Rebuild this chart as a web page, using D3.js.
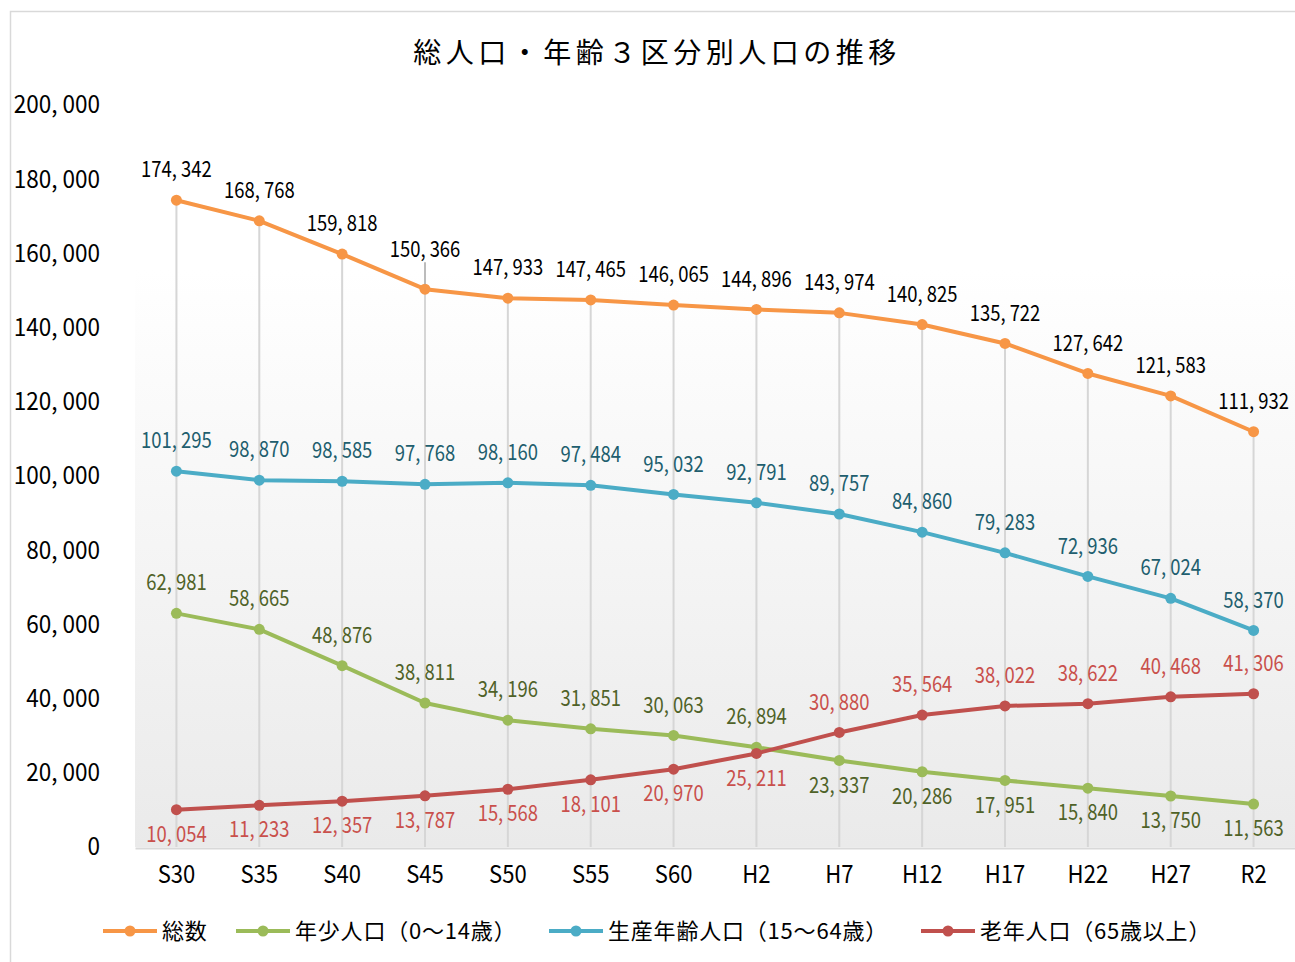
<!DOCTYPE html>
<html>
<head>
<meta charset="utf-8">
<script src="https://cdn.jsdelivr.net/npm/d3@7"></script>
<style>
  body { margin: 0; background: #fff; }
  svg text { font-family: "Noto Sans CJK JP", "Noto Sans", sans-serif; }
</style>
</head>
<body>
<div class="chart"></div>
<script>
var categories = ["S30", "S35", "S40", "S45", "S50", "S55", "S60", "H2", "H7", "H12", "H17", "H22", "H27", "R2"];
var totalPop = [174342, 168768, 159818, 150366, 147933, 147465, 146065, 144896, 143974, 140825, 135722, 127642, 121583, 111932];
var youngPop = [62981, 58665, 48876, 38811, 34196, 31851, 30063, 26894, 23337, 20286, 17951, 15840, 13750, 11563];
var workingPop = [101295, 98870, 98585, 97768, 98160, 97484, 95032, 92791, 89757, 84860, 79283, 72936, 67024, 58370];
var elderlyPop = [10054, 11233, 12357, 13787, 15568, 18101, 20970, 25211, 30880, 35564, 38022, 38622, 40468, 41306];
var yTicks = [0, 20000, 40000, 60000, 80000, 100000, 120000, 140000, 160000, 180000, 200000];

var svgW = 1295, svgH = 962;
var plot = { left: 135, right: 1295, top: 105, bottom: 847 };

var svg = d3.select(".chart").append("svg")
    .attr("width", svgW)
    .attr("height", svgH);

// outer frame
svg.append("rect")
    .attr("x", 10.5).attr("y", 11.5)
    .attr("width", svgW).attr("height", svgH)
    .attr("fill", "#fff")
    .attr("stroke", "#d9d9d9")
    .attr("stroke-width", 1.5);

var grad = svg.append("defs").append("linearGradient")
    .attr("id", "plotBg")
    .attr("x1", 0).attr("y1", 0).attr("x2", 0).attr("y2", 1);
grad.append("stop").attr("offset", "0%").attr("stop-color", "#ffffff");
grad.append("stop").attr("offset", "100%").attr("stop-color", "#eaeaea");

var x = d3.scaleBand().domain(categories).range([plot.left, plot.right]);
var y = d3.scaleLinear().domain([0, 200000]).range([plot.bottom, plot.top]);
var cx = function(c) { return x(c) + x.bandwidth() / 2; };

var fmt = function(v) { return d3.format(",")(v).replace(",", ", "); };

svg.append("rect")
    .attr("x", plot.left).attr("y", 270)
    .attr("width", plot.right - plot.left)
    .attr("height", plot.bottom - 270)
    .attr("fill", "url(#plotBg)");

// title
svg.append("text")
    .attr("x", 657).attr("y", 63)
    .attr("text-anchor", "middle")
    .style("font-size", "28px")
    .style("letter-spacing", "4.5px")
    .style("font-weight", 400)
    .attr("fill", "#000")
    .text("総人口・年齢３区分別人口の推移");

// drop lines from total to axis
svg.append("g").selectAll("line")
    .data(categories)
    .enter().append("line")
    .attr("x1", cx).attr("x2", cx)
    .attr("y1", function(c, i) { return y(totalPop[i]); })
    .attr("y2", y(0))
    .attr("stroke", "#d6d6d6")
    .attr("stroke-width", 2);

// axes
var sxY = 0.92;
var yAxis = svg.append("g")
    .attr("transform", "translate(" + plot.left + ",0)")
    .call(d3.axisLeft(y).tickValues(yTicks).tickSize(0).tickPadding(35).tickFormat(fmt));
yAxis.select(".domain").remove();
yAxis.selectAll("text")
    .style("font-size", "24.5px")
    .attr("fill", "#000")
    .attr("x", -35 / sxY)
    .attr("transform", "scale(" + sxY + ",1)");

var xAxis = svg.append("g")
    .attr("transform", "translate(0," + (plot.bottom + 1) + ")")
    .call(d3.axisBottom(x).tickSize(0).tickPadding(18));
xAxis.select(".domain").attr("stroke", "#d9d9d9").attr("stroke-width", 2);
xAxis.selectAll("text")
    .style("font-size", "24.5px")
    .attr("fill", "#000")
    .attr("transform", "scale(0.9,1)");

var series = [
    { name: "総数", values: totalPop, line: "#F79646", label: "#000000", place: "aaaaaaaaaaaaaa" },
    { name: "年少人口（0〜14歳）", values: youngPop, line: "#9BBB59", label: "#4F6228", place: "aaaaaaaabbbbbb" },
    { name: "生産年齢人口（15〜64歳）", values: workingPop, line: "#4BACC6", label: "#215E6E", place: "aaaaaaaaaaaaaa" },
    { name: "老年人口（65歳以上）", values: elderlyPop, line: "#C0504D", label: "#C9504C", place: "bbbbbbbbaaaaaa" }
];

var line = d3.line()
    .x(function(d, i) { return cx(categories[i]); })
    .y(function(d) { return y(d); });

var sxL = 0.82;
// leader nudge for the S45 total label
var totalNudge = { S45: -9 };

series.forEach(function(s, si) {
    var g = svg.append("g");
    g.append("path")
        .datum(s.values)
        .attr("d", line)
        .attr("fill", "none")
        .attr("stroke", s.line)
        .attr("stroke-width", 4)
        .attr("stroke-linejoin", "round");
    g.selectAll("circle")
        .data(s.values)
        .enter().append("circle")
        .attr("cx", function(d, i) { return cx(categories[i]); })
        .attr("cy", function(d) { return y(d); })
        .attr("r", 5.5)
        .attr("fill", s.line);

    g.selectAll("text")
        .data(s.values)
        .enter().append("text")
        .attr("transform", function(d, i) {
            var off = s.place[i] === "a" ? -31 : 24;
            if (si === 0 && totalNudge[categories[i]]) off += totalNudge[categories[i]];
            return "translate(" + cx(categories[i]) + "," + (y(d) + off) + ") scale(" + sxL + ",1)";
        })
        .attr("text-anchor", "middle")
        .attr("dy", "0.36em")
        .style("font-size", "22.5px")
        .attr("fill", s.label)
        .text(fmt);
});

// leader line for S45 total label
svg.append("line")
    .attr("x1", cx("S45")).attr("x2", cx("S45"))
    .attr("y1", y(totalPop[3]) - 27).attr("y2", y(totalPop[3]) - 5)
    .attr("stroke", "#a6a6a6")
    .attr("stroke-width", 1.5);

// legend
var legendX = [103, 236, 549, 921];
var legend = svg.append("g").attr("transform", "translate(0,931)");
series.forEach(function(s, i) {
    var lg = legend.append("g").attr("transform", "translate(" + legendX[i] + ",0)");
    lg.append("line")
        .attr("x1", 0).attr("x2", 54)
        .attr("stroke", s.line)
        .attr("stroke-width", 4);
    lg.append("circle")
        .attr("cx", 27).attr("r", 5.5)
        .attr("fill", s.line);
    lg.append("text")
        .attr("x", 59)
        .attr("dy", "0.36em")
        .style("font-size", "22px")
        .style("letter-spacing", "0.8px")
        .attr("fill", "#000")
        .text(s.name);
});
</script>
</body>
</html>
